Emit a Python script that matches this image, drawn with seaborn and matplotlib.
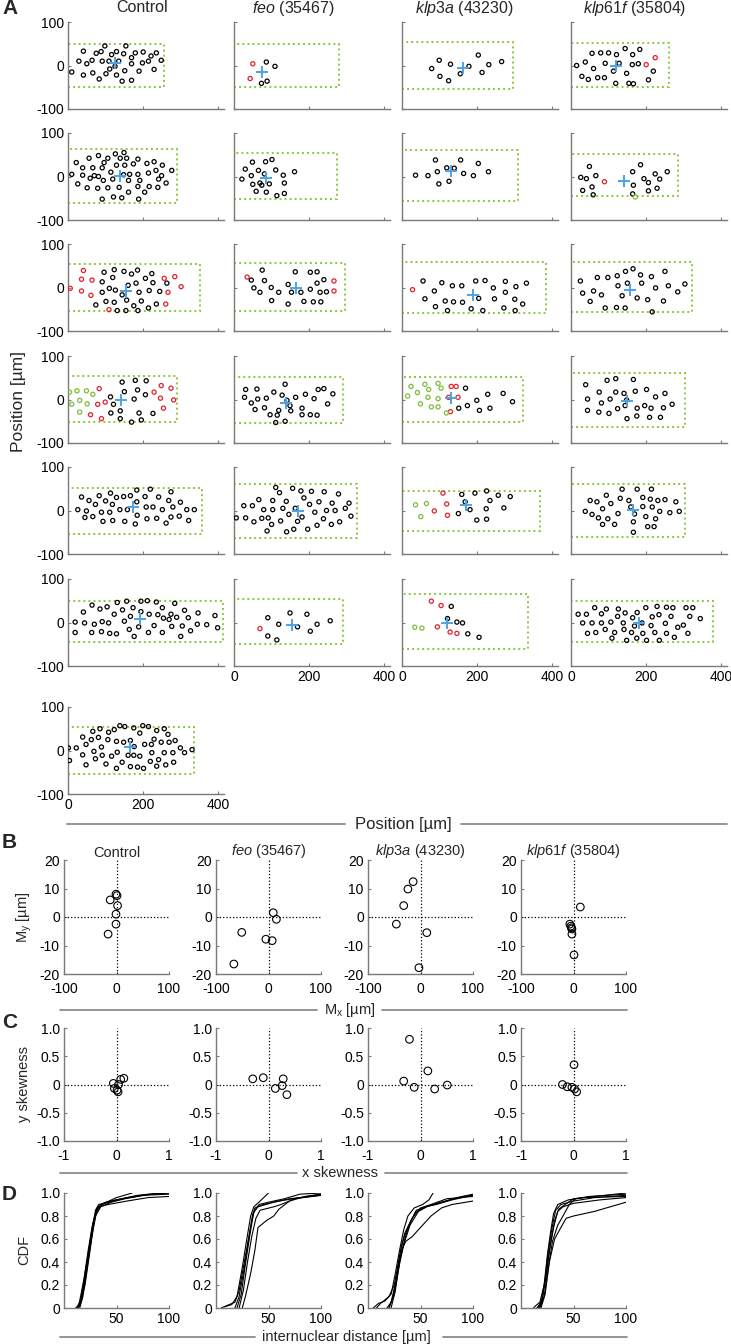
import pandas as pd
import matplotlib.pyplot as plt
import seaborn as sns
from matplotlib.patches import Rectangle
from matplotlib.lines import Line2D

# ---------------- data: panel A, nuclei positions (x, y) in um ----------------
titles = ["Control", r"$\mathit{feo}$ (35467)", r"$\mathit{klp3a}$ (43230)", r"$\mathit{klp61f}$ (35804)"]

ctrl_1 = [(10,-15),(29,10),(41,33),(41,-22),(50,4),(64,12),(66,-17),(75,28),(83,-31),(88,32),(91,10),(98,45),
          (101,-19),(109,10),(111,-8),(116,25),(125,-2),(129,-22),(129,32),(135,10),(144,-36),(148,27),(151,-12),
          (154,45),(169,18),(169,4),(169,-34),(179,29),(189,-13),(198,6),(200,31),(214,10),(221,22),(229,-9),(235,29),(248,12)]
ctrl_2 = [(10,5),(22,32),(26,-17),(39,20),(39,3),(51,-26),(56,42),(59,-4),(66,20),(70,2),(79,-27),(81,48),(81,0),
          (91,20),(96,32),(94,-9),(91,-52),(106,42),(106,-26),(114,10),(119,-6),(121,-47),(126,52),(129,26),(136,-25),
          (139,42),(143,-49),(148,4),(149,55),(151,26),(156,42),(161,-9),(161,-36),(164,5),(174,29),(186,40),(186,5),
          (186,-23),(188,-52),(191,-9),(204,-36),(210,30),(214,8),(216,-23),(229,34),(234,14),(239,-25),(241,-6),
          (249,2),(251,26),(261,-15),(276,14)]
ctrl_3 = [(74,-40),(91,-11),(91,13),(96,35),(101,-32),(110,-2),(119,23),(123,41),(123,-34),(126,-6),(131,-53),
          (144,-17),(149,37),(154,-53),(156,-29),(160,5),(169,31),(175,-42),(181,10),(185,40),(186,-53),(189,-11),
          (195,-31),(206,21),(214,-47),(216,-7),(223,32),(226,11),(235,-38),(244,-9),(263,10)]
ctrl_4 = [(113,6),(114,-31),(121,-11),(139,-26),(139,-44),(144,40),(150,18),(169,-52),(176,1),(179,44),(185,22),
          (189,-31),(195,-47),(206,11),(208,43),(226,-32)]
ctrl_5 = [(26,2),(36,31),(45,-16),(49,-1),(56,23),(66,-14),(73,14),(83,34),(89,-4),(93,-25),(100,22),(111,-4),
          (113,40),(119,-23),(118,14),(129,30),(138,2),(148,32),(151,-25),(158,2),(166,34),(183,47),(183,20),(184,-11),
          (179,-31),(205,32),(208,8),(210,-19),(219,49),(226,8),(236,-18),(241,31),(251,2),(261,-29),(268,23),(274,43),
          (274,-15),(279,8),(296,-13),(299,19),(316,2),(321,-23),(336,2)]
ctrl_6 = [(19,1),(19,-23),(41,24),(44,-1),(64,40),(70,-4),(63,-23),(85,31),(89,-21),(91,2),(104,36),(108,-1),
          (111,-25),(123,19),(129,-26),(131,46),(145,29),(150,3),(156,49),(163,-16),(166,14),(173,34),(176,-32),
          (188,-10),(194,25),(194,49),(211,50),(214,-23),(216,19),(229,-7),(235,47),(239,18),(251,34),(254,10),
          (251,-23),(269,7),(274,19),(276,-9),(284,44),(289,12),(300,-32),(304,-8),(310,28),(320,11),(326,-19),
          (344,-4),(346,22),(369,-5),(391,16),(398,-12)]
ctrl_7 = [(1,6),(22,6),(39,31),(48,14),(62,25),(66,44),(81,30),(85,50),(89,8),(106,25),(108,42),(123,48),(129,21),
          (138,57),(148,19),(151,55),(166,23),(175,52),(176,9),(191,40),(199,57),(204,14),(214,55),(222,14),(229,26),
          (236,46),(248,19),(256,50),(266,37),(269,19),(285,23),(299,6),(330,2),(4,-23),(39,-10),(48,-33),(69,-2),
          (73,-19),(91,-11),(101,-31),(116,-13),(129,-41),(131,-4),(144,-27),(160,-11),(166,-37),(175,-11),(185,-38),
          (191,-13),(201,-41),(219,-25),(223,-5),(236,-36),(241,-21),(256,-5),(260,-33),(281,-27),(279,-5),(310,-5)]
ctrl_red = [[], [], [(6,-2),(36,-8),(36,19),(41,39),(61,-18),(64,17),(109,-51),(256,21),(260,-38),(266,-11),(284,25),(301,2)],
            [(60,-35),(83,25),(79,-11),(89,-44),(99,-6),(229,17),(248,32),(246,3),(254,-20),(274,26),(281,-1)],
            [], [], []]
ctrl_grn = [[], [], [], [(4,17),(10,-11),(24,20),(31,-2),(31,-29),(49,20),(51,-10),(66,12)], [], [], []]
ctrl_box = [(256,-49,50),(291,-61,64),(350,-53,53),(291,-52,55),(356,-53,51),(412,-45,49),(335,-54,55)]
ctrl_cen = [(126,5),(139,2),(154,-7),(141,-2),(174,7),(191,7),(164,8)]

feo_1 = [(86,8),(109,-2),(88,-36),(73,-41)]
feo_2 = [(21,-6),(30,17),(46,2),(49,33),(50,-18),(59,-34),(65,14),(69,-15),(74,-20),(81,6),(84,34),(86,-36),(94,-17),
         (101,39),(111,15),(114,-44),(131,3),(134,-15),(134,-39),(161,11)]
feo_3 = [(53,-1),(46,17),(69,-11),(75,40),(81,16),(100,-30),(99,0),(119,-11),(144,7),(144,-38),(153,-11),(163,36),
         (178,-11),(186,-32),(203,35),(203,-4),(211,-33),(221,36),(221,10),(229,-11),(231,-33),(239,18),(246,-10)]
feo_4 = [(28,5),(31,23),(46,-8),(56,-23),(61,24),(63,1),(81,-19),(86,3),(96,-35),(106,17),(111,-53),(115,-36),
         (119,-25),(128,10),(136,-50),(136,35),(141,-2),(149,-14),(151,-26),(164,5),(181,-20),(181,-35),(190,12),
         (203,-35),(213,2),(221,-36),(224,23),(239,25),(249,-10),(263,13)]
feo_5 = [(6,-17),(26,11),(31,-17),(49,11),(53,-26),(66,25),(74,-18),(79,2),(88,-47),(91,-17),(100,-32),(103,2),
         (103,23),(111,53),(121,41),(124,-24),(130,5),(140,-49),(139,21),(146,-9),(156,51),(159,-43),(163,5),(169,-25),
         (178,45),(181,-15),(186,29),(196,-43),(201,14),(206,44),(215,-4),(221,-34),(226,20),(238,-19),(240,43),
         (246,0),(259,-32),(261,17),(269,0),(278,38),(281,-26),(296,5),(306,17),(311,-13)]
feo_6 = [(90,11),(90,-31),(114,-40),(119,-4),(149,22),(169,-10),(194,19),(203,-20),(221,-4),(256,4)]
feo_red = [[(50,4),(43,-30)], [], [(35,24),(266,15),(266,-8)], [], [], [(69,-14)]]
feo_grn = [[], [], [], [], [], []]
feo_box = [(278,-50,50),(274,-52,55),(296,-55,57),(290,-53,52),(328,-64,62),(290,-49,53)]
feo_cen = [(74,-15),(86,-4),(164,-2),(138,-8),(169,0),(153,-6)]

klp3a_1 = [(79,-7),(99,12),(101,-25),(124,-35),(129,3),(155,-19),(178,-2),(203,24),(213,-16),(231,2),(265,9)]
klp3a_2 = [(36,3),(69,2),(89,38),(94,11),(98,-17),(119,20),(125,-11),(139,19),(156,38),(164,7),(190,2),(203,30),(230,11)]
klp3a_3 = [(56,15),(61,-26),(86,-8),(89,-44),(106,11),(115,-31),(121,-53),(134,4),(137,-33),(159,4),(161,-34),
           (184,-49),(196,15),(204,-25),(215,-53),(221,16),(243,-1),(246,-26),(275,14),(275,-11),(271,-47),(300,-27),
           (303,2),(301,-53),(321,-38),(331,10)]
klp3a_4 = [(151,-20),(169,26),(174,-14),(199,-2),(206,-25),(228,12),(234,-20),(269,14),(294,-5)]
klp3a_5 = [(150,-7),(159,37),(168,20),(181,2),(194,40),(199,-22),(224,4),(225,45),(225,-20),(234,23),(256,35),(271,6),(288,32)]
klp3a_6 = [(131,37),(121,9),(146,1),(161,-1),(175,-26),(205,-34)]
klp3a_red = [[], [], [(28,-5)], [(129,-28),(131,30),(144,30),(124,5),(149,5)], [(86,-1),(109,40),(119,15),(121,-11)],
             [(78,49),(104,39),(94,-10),(128,-22),(146,-25)]]
klp3a_grn = [[], [], [], [(15,8),(24,30),(41,16),(49,-10),(61,35),(69,5),(71,23),(78,-17),(96,37),(96,2),(104,26),(96,-17),(118,-31)],
             [(36,13),(50,-14),(65,16)], [(34,-11),(53,-13)]]
klp3a_box = [(296,-54,55),(309,-57,61),(384,-59,58),(321,-52,52),(368,-47,45),(334,-60,65)]
klp3a_cen = [(161,-5),(131,12),(190,-17),(131,3),(171,12),(119,-1)]

klp61f_1 = [(15,0),(29,-25),(38,8),(46,-32),(56,28),(60,-7),(71,-28),(79,29),(89,-28),(91,5),(100,29),(113,-13),
            (121,25),(128,5),(144,39),(148,-18),(163,2),(164,25),(166,-42),(154,-41),(119,-41),(179,4),(183,37),(219,-13),(206,-33)]
klp61f_2 = [(26,-2),(31,-32),(41,-5),(49,23),(56,-24),(59,-42),(66,2),(164,-40),(166,-20),(164,11),(185,27),(194,-5),
            (206,-14),(206,-33),(224,6),(229,-27),(236,-6),(256,11)]
klp61f_3 = [(25,15),(31,-13),(51,-32),(60,-8),(70,23),(81,-17),(91,-47),(98,23),(121,-46),(123,27),(125,4),(136,-19),
            (144,-47),(145,37),(150,10),(165,43),(176,-24),(185,29),(188,10),(204,-28),(214,25),(216,-56),(225,-1),
            (246,-31),(250,37),(259,4),(284,-10),(303,8)]
klp61f_4 = [(39,34),(44,1),(44,-25),(75,17),(74,-29),(81,-8),(96,44),(101,-32),(104,1),(119,48),(119,17),(124,-21),
            (141,14),(144,-14),(149,-44),(148,-1),(166,46),(171,19),(175,-38),(176,-20),(196,-14),(201,23),(209,-41),
            (213,-20),(225,6),(238,-41),(246,-19),(250,14),(269,-11)]
klp61f_5 = [(38,-2),(51,23),(56,-9),(69,20),(73,-17),(84,4),(84,-32),(98,-19),(94,35),(106,16),(116,-32),(125,-7),
            (131,28),(136,49),(154,23),(159,8),(166,-50),(166,-26),(169,-8),(176,49),(191,9),(191,30),(199,-14),(204,-37),
            (211,26),(214,49),(216,8),(221,-37),(225,-19),(231,23),(236,-2),(250,25),(263,-5),(279,20),(288,-2)]
klp61f_6 = [(19,19),(31,-1),(41,19),(44,-25),(56,-1),(63,34),(66,-23),(81,20),(81,-1),(91,-16),(94,31),(106,1),
            (109,-36),(116,-23),(126,31),(124,14),(139,-1),(141,-16),(144,22),(148,-41),(161,-23),(164,11),(169,-8),
            (175,-36),(176,23),(189,-1),(191,-25),(199,34),(201,-41),(213,-7),(216,13),(223,-23),(229,37),(234,18),
            (235,-41),(251,-2),(254,-25),(254,35),(266,14),(271,34),(275,-34),(284,-11),(299,-6),(306,34),(311,-25),
            (316,14),(324,34),(344,9)]
klp61f_red = [[(200,2),(224,18)], [(89,-12)], [], [], [], []]
klp61f_grn = [[], [(171,-47)], [], [], [], []]
klp61f_box = [(260,-50,52),(284,-45,51),(321,-57,59),(304,-63,62),(304,-62,60),(379,-45,49)]
klp61f_cen = [(121,-2),(141,-11),(156,-5),(150,-4),(165,2),(181,0)]

# ---------------- data: panel B (Mx, My) and C (x, y skewness) ----------------
B_mx = [[-1, 1, -12, 2, -1, -1, -16], [9, 15, -51, -5, 7, -66], [-14, -24, -32, -46, 12, -3], [13, -7, -5, -4, -3, -3, 1]]
B_my = [[8, 7.5, 6, 4, 1, -2.5, -6], [1.5, -0.8, -5.4, -7.8, -8.3, -16.5], [12.4, 9.8, 4, -2.5, -5.5, -17.8],
        [3.5, -2.5, -3.2, -3.8, -4.2, -6, -13.3]]
C_sx = [[-0.06, -0.04, 0.01, 0.03, 0.08, 0.14, 0.04], [-0.3, -0.1, 0.28, 0.26, 0.13, 0.35],
        [-0.21, -0.32, -0.12, 0.14, 0.27, 0.51], [0.01, -0.21, -0.12, -0.03, 0.02, 0.06]]
C_sy = [[0.02, -0.07, -0.1, -0.13, 0.09, 0.11, 0.0], [0.1, 0.12, 0.1, -0.02, -0.07, -0.18],
        [0.8, 0.06, -0.05, 0.24, -0.08, -0.01], [0.35, 0.0, -0.04, -0.05, -0.08, -0.13]]

# ---------------- data: panel D, CDF of internuclear distance (um, cdf) ----------------
ctrl_cdf = [
    [(12,0),(15,0.03),(18,0.15),(22,0.4),(26,0.65),(30,0.85),(33,0.9),(45,0.93),(60,0.96),(80,0.99),(100,1.0)],
    [(13,0),(16,0.05),(20,0.2),(24,0.45),(28,0.7),(32,0.88),(40,0.92),(55,0.95),(70,0.98),(100,1.0)],
    [(14,0),(17,0.08),(21,0.3),(25,0.55),(29,0.78),(33,0.88),(42,0.9),(60,0.93),(80,0.96),(100,0.97)],
    [(11,0),(14,0.02),(19,0.25),(23,0.5),(27,0.72),(31,0.86),(38,0.91),(50,0.96),(65,1.0)],
    [(15,0),(18,0.1),(22,0.35),(26,0.6),(30,0.8),(35,0.88),(45,0.92),(58,0.95),(75,0.98),(100,0.99)],
    [(12,0),(16,0.07),(20,0.3),(24,0.52),(28,0.74),(31,0.84),(36,0.9),(50,0.94),(70,0.97),(90,1.0)]]
feo_cdf = [
    [(5,0),(10,0.02),(18,0.05),(22,0.15),(26,0.35),(30,0.55),(34,0.75),(37,0.87),(45,0.9),(60,0.93),(80,0.96),(100,0.99)],
    [(8,0.01),(15,0.03),(20,0.1),(25,0.35),(29,0.58),(33,0.8),(36,0.88),(42,0.93),(50,1.0)],
    [(18,0),(22,0.1),(27,0.35),(31,0.6),(35,0.82),(40,0.88),(55,0.92),(70,0.95),(100,0.98)],
    [(22,0),(26,0.15),(30,0.4),(34,0.62),(38,0.78),(42,0.85),(55,0.88),(62,0.9),(75,0.95),(100,0.98)],
    [(25,0),(28,0.1),(33,0.3),(37,0.5),(40,0.7),(48,0.76),(55,0.8),(60,0.86),(70,0.93),(85,0.97),(100,0.99)],
    [(20,0),(24,0.12),(28,0.38),(32,0.62),(36,0.84),(41,0.9),(50,0.92),(65,0.95),(80,0.99),(100,1.0)]]
klp3a_cdf = [
    [(5,0),(10,0.04),(16,0.06),(22,0.12),(26,0.3),(30,0.5),(34,0.68),(38,0.8),(44,0.87),(52,0.9),(58,0.94),(62,1.0)],
    [(8,0),(12,0.04),(20,0.1),(25,0.2),(29,0.4),(33,0.58),(38,0.7),(45,0.83),(55,0.88),(65,0.9),(80,0.94),(100,0.98)],
    [(20,0),(24,0.1),(28,0.3),(32,0.5),(36,0.58),(42,0.62),(50,0.7),(60,0.8),(70,0.87),(80,0.9),(100,0.93)],
    [(22,0),(26,0.15),(30,0.4),(35,0.6),(40,0.74),(46,0.85),(55,0.88),(70,0.92),(85,0.96),(100,0.99)],
    [(18,0),(22,0.05),(27,0.25),(31,0.5),(35,0.65),(42,0.78),(50,0.87),(60,0.9),(75,0.95),(100,0.97)],
    [(20,0),(25,0.12),(30,0.38),(34,0.55),(40,0.72),(48,0.84),(58,0.89),(70,0.92),(90,0.97),(100,0.98)]]
klp61f_cdf = [
    [(12,0),(14,0.02),(18,0.05),(22,0.2),(25,0.45),(28,0.65),(31,0.82),(35,0.9),(45,0.94),(60,0.96),(80,0.98),(100,1.0)],
    [(15,0),(19,0.04),(23,0.25),(26,0.5),(30,0.72),(33,0.85),(38,0.9),(50,0.93),(70,0.96),(100,0.98)],
    [(17,0),(20,0.05),(24,0.3),(28,0.55),(32,0.76),(36,0.86),(42,0.9),(50,0.95),(60,0.96),(100,0.97)],
    [(18,0),(22,0.1),(26,0.35),(30,0.58),(35,0.72),(40,0.8),(46,0.9),(52,0.95),(65,0.97),(100,0.99)],
    [(19,0),(23,0.12),(27,0.4),(32,0.6),(38,0.7),(43,0.78),(50,0.8),(70,0.84),(85,0.88),(100,0.92)],
    [(16,0),(20,0.08),(24,0.28),(27,0.5),(31,0.7),(35,0.84),(40,0.88),(50,0.91),(75,0.94),(100,0.96)]]

# ---------------- style ----------------
sns.set_theme(style="ticks")
plt.rcParams["font.family"] = ["Liberation Sans", "DejaVu Sans"]
plt.rcParams["mathtext.fontset"] = "custom"
plt.rcParams["mathtext.rm"] = "Liberation Sans"
plt.rcParams["mathtext.it"] = "Liberation Sans:italic"
plt.rcParams["axes.unicode_minus"] = False

AX_GRAY = "#7a7a7a"
SEP_GRAY = "#8c8c8c"
BOX_GREEN = "#8dc63f"
RED = "#e3222b"
GREEN = "#7cbf3a"
BLUE = "#4ea2e6"

W, H = 731, 1344
fig = plt.figure(figsize=(W / 100, H / 100), dpi=100)


def add_ax(left, top, w, h):
    return fig.add_axes([left / W, 1 - (top + h) / H, w / W, h / H])


def style(ax, xpad=3):
    sns.despine(ax=ax)
    for s in ("left", "bottom"):
        ax.spines[s].set_color(AX_GRAY)
        ax.spines[s].set_linewidth(1.0)
    ax.tick_params(direction="in", length=2.5, width=0.8, color=AX_GRAY, labelsize=10, pad=3,
                   labelcolor="black")
    ax.tick_params(axis="x", pad=xpad)
    ax.set_facecolor("none")
    ax.set_xlabel("")
    ax.set_ylabel("")


def open_circles(ax, pts, color, size, lw):
    if len(pts) == 0:
        return
    d = pd.DataFrame(pts, columns=["x", "y"])
    sns.scatterplot(data=d, x="x", y="y", ax=ax, marker="o", s=size, color=color,
                    facecolor="none", edgecolor=color, linewidth=lw, legend=False, zorder=3)


def label_bar(y, xc, text, segs):
    fig.text(xc / W, 1 - y / H, text, ha="center", va="center", fontsize=10.5)
    for a, b in segs:
        fig.add_artist(Line2D([a / W, b / W], [1 - y / H] * 2, color=SEP_GRAY, lw=1.3))


# ---------------- panel A ----------------
genos = [
    ([ctrl_1, ctrl_2, ctrl_3, ctrl_4, ctrl_5, ctrl_6, ctrl_7], ctrl_red, ctrl_grn, ctrl_box, ctrl_cen),
    ([feo_1, feo_2, feo_3, feo_4, feo_5, feo_6], feo_red, feo_grn, feo_box, feo_cen),
    ([klp3a_1, klp3a_2, klp3a_3, klp3a_4, klp3a_5, klp3a_6], klp3a_red, klp3a_grn, klp3a_box, klp3a_cen),
    ([klp61f_1, klp61f_2, klp61f_3, klp61f_4, klp61f_5, klp61f_6], klp61f_red, klp61f_grn, klp61f_box, klp61f_cen),
]
col_left = [68, 234, 402, 571]
row_top = [22, 133, 244, 356, 467, 579, 707]
title_x = [142, 293, 464, 635]

for c, (pts_list, reds, grns, boxes, cens) in enumerate(genos):
    fig.text(title_x[c] / W, 1 - 8 / H, titles[c], ha="center", va="center", fontsize=11.5)
    n = len(pts_list)
    for r in range(n):
        ax = add_ax(col_left[c], row_top[r], 156, 87)
        xmax, ymin, ymax = boxes[r]
        ax.add_patch(Rectangle((0, ymin), xmax, ymax - ymin, fill=False, ec=BOX_GREEN, lw=1.4,
                               ls=(0, (1, 1.6)), zorder=2))
        open_circles(ax, pts_list[r], "black", 9, 0.9)
        open_circles(ax, reds[r], RED, 9, 0.9)
        open_circles(ax, grns[r], GREEN, 9, 0.9)
        cen = pd.DataFrame([cens[r]], columns=["x", "y"])
        sns.scatterplot(data=cen, x="x", y="y", ax=ax, marker="+", s=80, color=BLUE,
                        linewidth=1.4, legend=False, zorder=4)
        ax.set_xlim(0, 415)
        ax.set_ylim(-100, 100)
        ax.set_xticks([0, 200, 400])
        ax.set_yticks([-100, 0, 100])
        style(ax)
        if c > 0:
            ax.set_yticklabels([])
        if r != n - 1:
            ax.set_xticklabels([])

fig.text(19 / W, 1 - 402 / H, "Position [µm]", rotation=90, ha="center", va="center", fontsize=12.5)
fig.text(403 / W, 1 - 824 / H, "Position [µm]", ha="center", va="center", fontsize=12)
for a, b in ((67, 345), (461, 727)):
    fig.add_artist(Line2D([a / W, b / W], [1 - 824 / H] * 2, color=SEP_GRAY, lw=1.3))

# ---------------- panels B, C, D ----------------
small_left = [64, 216, 368, 521]
cdfs = [ctrl_cdf, feo_cdf, klp3a_cdf, klp61f_cdf]

for c in range(4):
    # B
    ax = add_ax(small_left[c], 860, 105, 114)
    ax.axhline(0, color="black", ls=":", lw=0.9, zorder=1)
    ax.axvline(0, color="black", ls=":", lw=0.9, zorder=1)
    open_circles(ax, list(zip(B_mx[c], B_my[c])), "black", 30, 0.8)
    ax.set_xlim(-100, 100)
    ax.set_ylim(-20, 20)
    ax.set_xticks([-100, 0, 100])
    ax.set_yticks([-20, -10, 0, 10, 20])
    style(ax, xpad=6)
    ax.set_title(titles[c], fontsize=10.5, pad=1)

    # C
    ax = add_ax(small_left[c], 1028, 105, 113)
    ax.axhline(0, color="black", ls=":", lw=0.9, zorder=1)
    ax.axvline(0, color="black", ls=":", lw=0.9, zorder=1)
    open_circles(ax, list(zip(C_sx[c], C_sy[c])), "black", 30, 0.8)
    ax.set_xlim(-1, 1)
    ax.set_ylim(-1, 1)
    ax.set_xticks([-1, 0, 1])
    ax.set_yticks([-1, -0.5, 0, 0.5, 1])
    style(ax, xpad=6)
    ax.set_xticklabels(["-1", "0", "1"])
    ax.set_yticklabels(["-1.0", "-0.5", "0", "0.5", "1.0"])

    # D
    ax = add_ax(small_left[c], 1193, 105, 115)
    rows = [(i, x, y) for i, curve in enumerate(cdfs[c]) for x, y in curve]
    d = pd.DataFrame(rows, columns=["curve", "dist", "cdf"])
    sns.lineplot(data=d, x="dist", y="cdf", units="curve", estimator=None, sort=False,
                 color="black", lw=0.8, ax=ax, legend=False)
    ax.set_xlim(0, 100)
    ax.set_ylim(0, 1)
    ax.set_xticks([50, 100])
    ax.set_yticks([0, 0.2, 0.4, 0.6, 0.8, 1.0])
    style(ax)
    ax.set_yticklabels(["0", "0.2", "0.4", "0.6", "0.8", "1.0"])

fig.text(24 / W, 1 - 917 / H, r"M$_\mathrm{y}$ [µm]", rotation=90, ha="center", va="center", fontsize=10.5)
fig.text(24 / W, 1 - 1084 / H, "y skewness", rotation=90, ha="center", va="center", fontsize=10.5)
fig.text(24 / W, 1 - 1250 / H, "CDF", rotation=90, ha="center", va="center", fontsize=10.5)

label_bar(1010, 350, r"M$_\mathrm{x}$ [µm]", [(60, 317), (382, 627)])
label_bar(1173, 340, "x skewness", [(60, 297), (385, 627)])
label_bar(1337, 346, "internuclear distance [µm]", [(60, 255), (443, 627)])

for letter, y in (("A", 8), ("B", 842), ("C", 1022), ("D", 1195)):
    fig.text(2 / W, 1 - y / H, letter, ha="left", va="center", fontsize=15, weight="bold")

fig.savefig("out.png", dpi=100)
